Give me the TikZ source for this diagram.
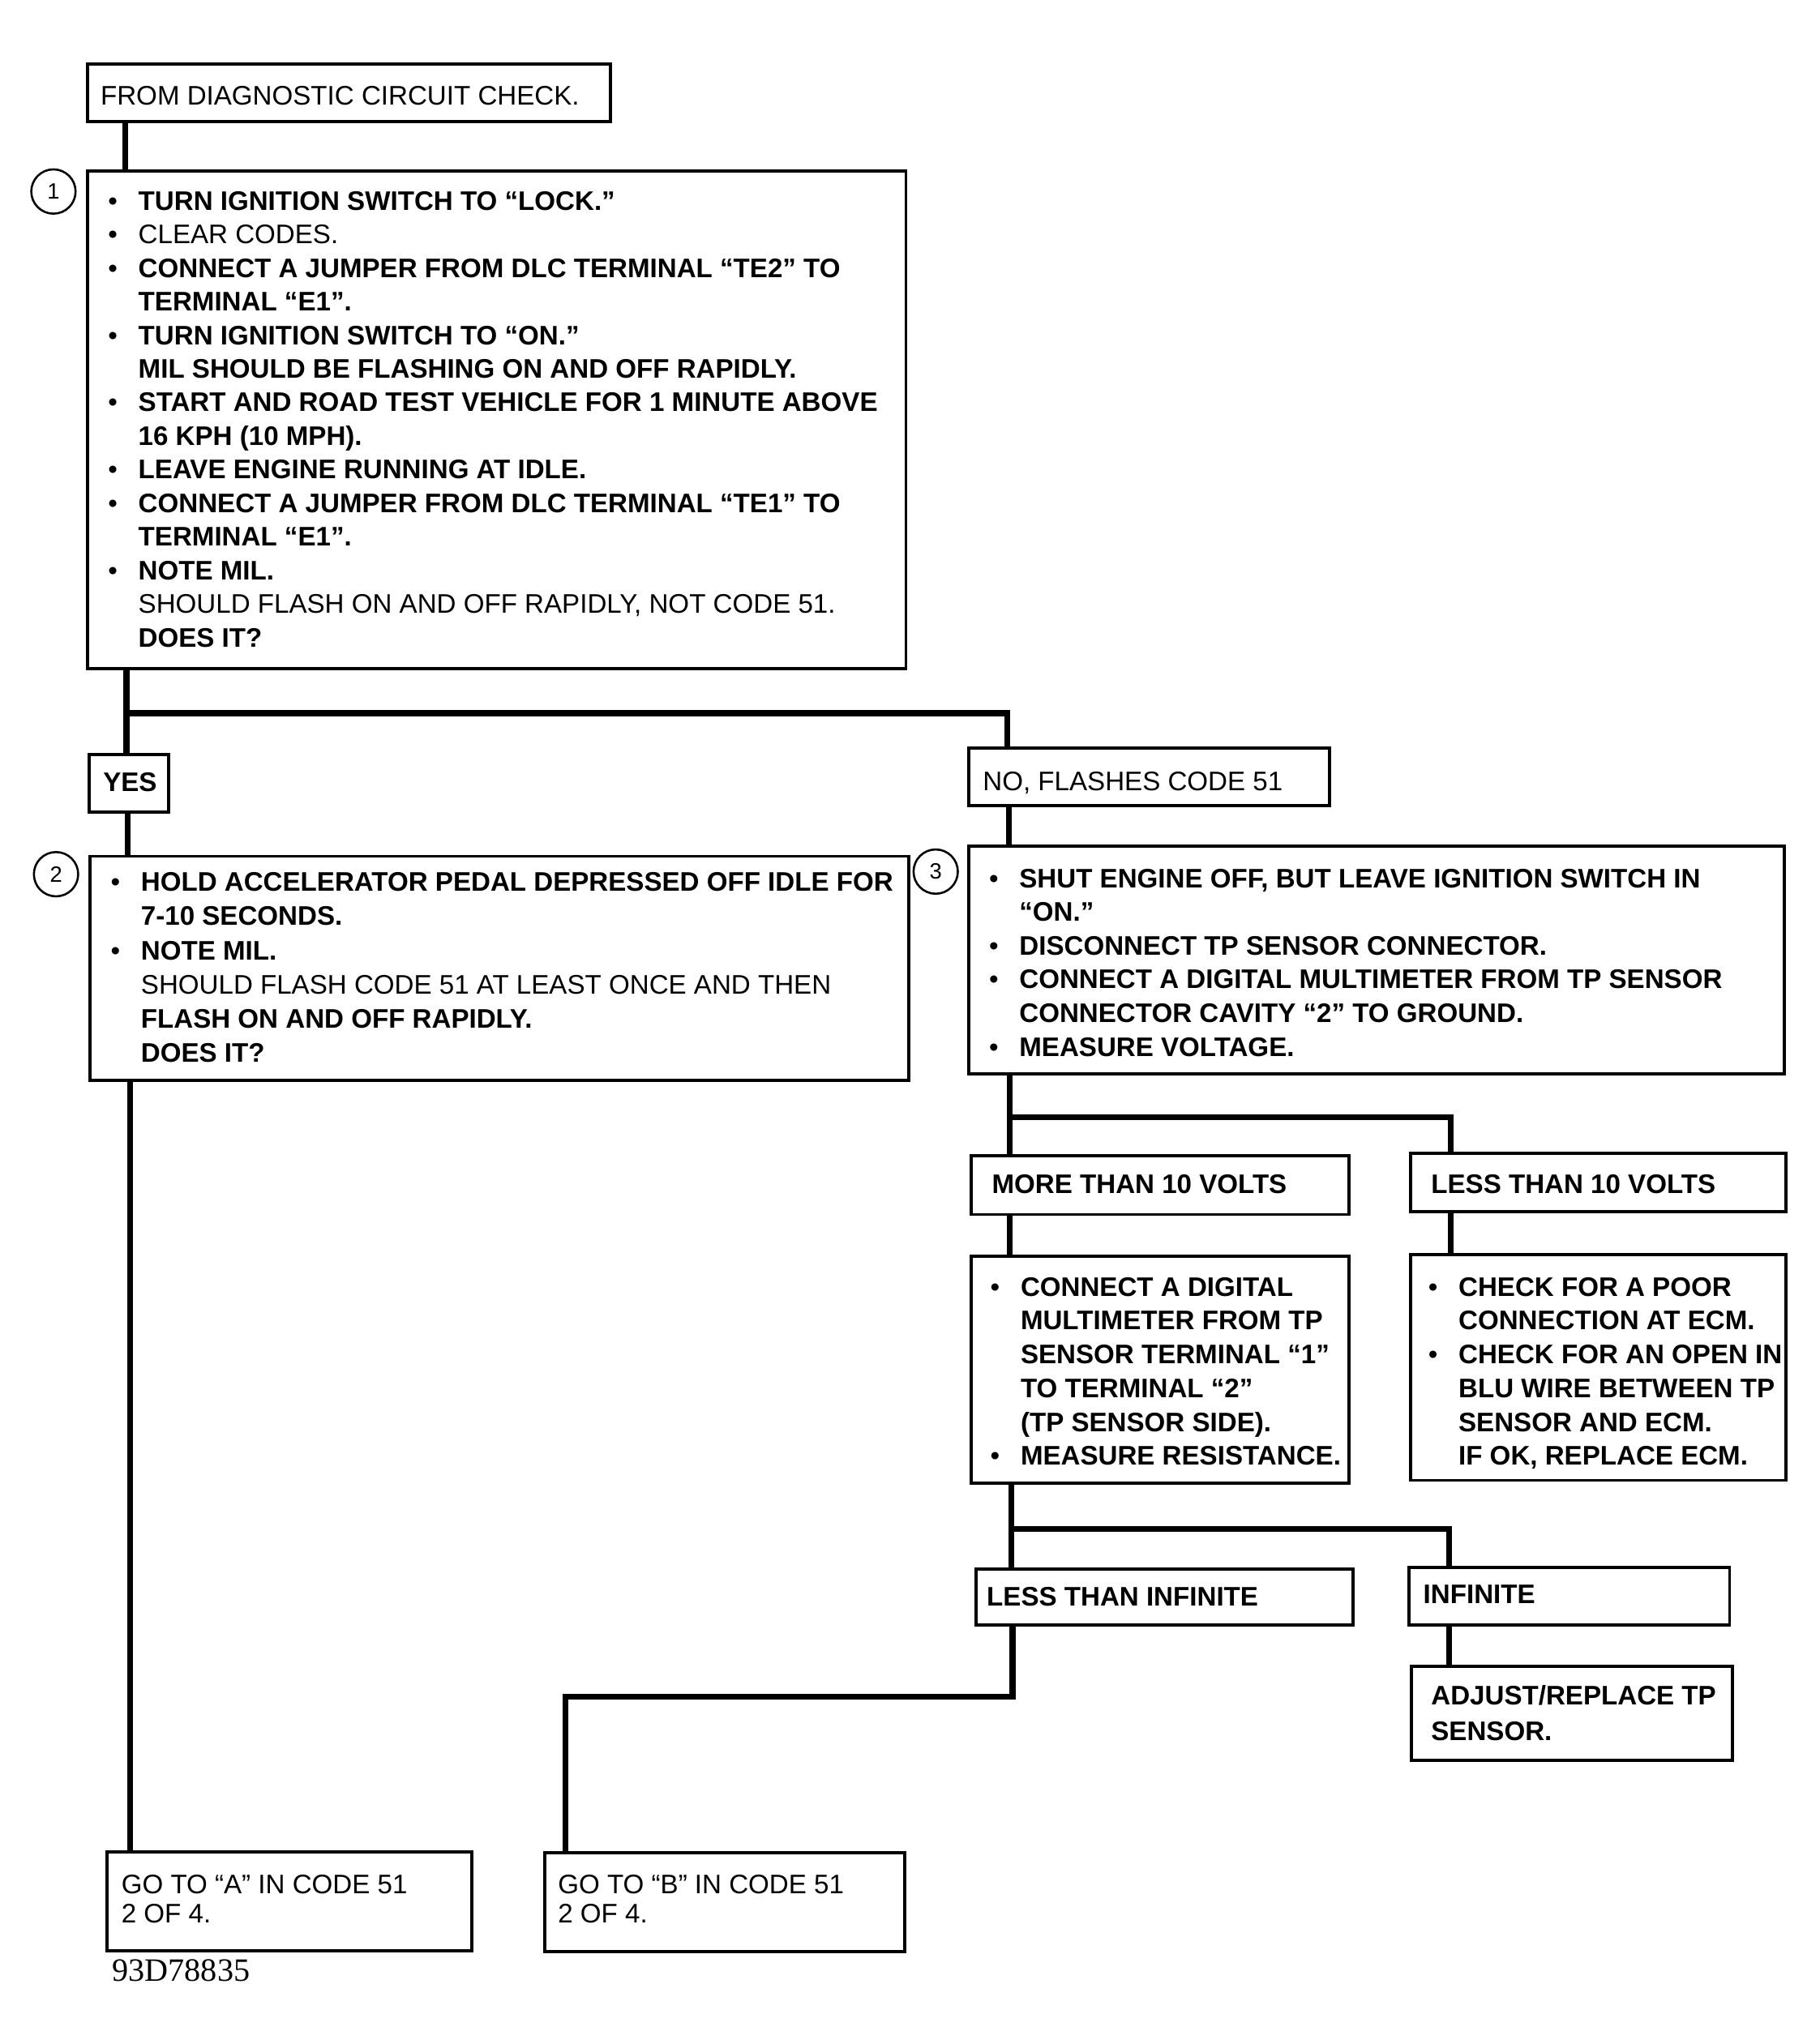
\documentclass[tikz,border=0pt]{standalone}
\usepackage{fontspec}
\setmainfont{Liberation Sans}
\newfontfamily\codefont{Liberation Serif}
\newcommand\fs{\rule{0pt}{16pt}}
\newcommand\bu{\llap{\textbullet\hspace{16pt}}}
\begin{document}
\begin{tikzpicture}[x=1pt,y=-1pt,
 frame/.style={draw, line width=2.4pt, inner sep=0pt, anchor=north west},
 conn/.style={line width=4.5pt},
 txt/.style={anchor=north west, inner sep=0pt, align=left, font=\fontsize{20.6}{25.8}\selectfont},
 lsk/.style={font=\fontsize{20.6}{#1}\selectfont},
 num/.style={circle, draw, line width=1.6pt, minimum size=34pt, inner sep=0pt, font=\fontsize{17}{17}\selectfont}]
\useasboundingbox (0,0) rectangle (1396,1568.9);

% frames
\node[frame, minimum width=401pt, minimum height=44pt] (from) at (66,48) {};
\node[frame, minimum width=628pt, minimum height=382pt] (b1) at (66,130) {};
\node[frame, minimum width=61pt, minimum height=44pt] (yes) at (67,578) {};
\node[frame, minimum width=628pt, minimum height=172pt] (b2) at (68,656) {};
\node[frame, minimum width=280pt, minimum height=76pt] (goa) at (81,1420) {};
\node[frame, minimum width=277pt, minimum height=44pt] (nob) at (742,573) {};
\node[frame, minimum width=626pt, minimum height=175pt] (b3) at (742,648) {};
\node[frame, minimum width=290pt, minimum height=45pt] (more) at (744,886) {};
\node[frame, minimum width=288pt, minimum height=45pt] (less) at (1081,884) {};
\node[frame, minimum width=290pt, minimum height=174pt] (b4) at (744,963) {};
\node[frame, minimum width=288pt, minimum height=173pt] (b5) at (1081,962) {};
\node[frame, minimum width=289pt, minimum height=43pt] (lti) at (748,1203) {};
\node[frame, minimum width=246pt, minimum height=44pt] (inf) at (1080,1202) {};
\node[frame, minimum width=246pt, minimum height=72pt] (adj) at (1082,1278) {};
\node[frame, minimum width=276pt, minimum height=76pt] (gob) at (417,1421) {};

% step numbers
\node[num] (c1) at (41,147) {1};
\node[num] (c2) at (43,671) {2};
\node[num] (c3) at (718,669) {3};

% connectors
\draw[conn] ([xshift=30pt]from.south west) -- ([xshift=30pt]b1.north west);
\draw[conn] ([xshift=31pt]b1.south west) -- ([xshift=30pt]yes.north west);
\draw[conn] ([xshift=31pt]b1.south west) -- ++(0,33) -| ([xshift=31pt]nob.north west);
\draw[conn] ([xshift=31pt]yes.south west) -- ([xshift=30pt]b2.north west);
\draw[conn] ([xshift=32pt]b2.south west) -- ([xshift=19pt]goa.north west);
\draw[conn] ([xshift=32pt]nob.south west) -- ([xshift=32pt]b3.north west);
\draw[conn] ([xshift=33pt]b3.south west) -- ([xshift=31pt]more.north west);
\draw[conn] ([xshift=33pt]b3.south west) -- ++(0,32) -| ([xshift=32pt]less.north west);
\draw[conn] ([xshift=31pt]more.south west) -- ([xshift=31pt]b4.north west);
\draw[conn] ([xshift=32pt]less.south west) -- ([xshift=32pt]b5.north west);
\draw[conn] ([xshift=32pt]b4.south west) -- ([xshift=28pt]lti.north west);
\draw[conn] ([xshift=32pt]b4.south west) -- ++(0,34) -| ([xshift=32pt]inf.north west);
\draw[conn] ([xshift=32pt]inf.south west) -- ([xshift=30pt]adj.north west);
\draw[conn] ([xshift=29pt]lti.south west) -- ++(0,54) -| ([xshift=17pt]gob.north west);

% texts
\node[txt] (tfrom) at (77,64.5) {\fs FROM DIAGNOSTIC CIRCUIT CHECK.};
\node[txt] (tb1) at (106,145) {\fs\bu\textbf{TURN IGNITION SWITCH TO “LOCK.”}\\
\bu CLEAR CODES.\\
\bu\textbf{CONNECT A JUMPER FROM DLC TERMINAL “TE2” TO}\\
\textbf{TERMINAL “E1”.}\\
\bu\textbf{TURN IGNITION SWITCH TO “ON.”}\\
\textbf{MIL SHOULD BE FLASHING ON AND OFF RAPIDLY.}\\
\bu\textbf{START AND ROAD TEST VEHICLE FOR 1 MINUTE ABOVE}\\
\textbf{16 KPH (10 MPH).}\\
\bu\textbf{LEAVE ENGINE RUNNING AT IDLE.}\\
\bu\textbf{CONNECT A JUMPER FROM DLC TERMINAL “TE1” TO}\\
\textbf{TERMINAL “E1”.}\\
\bu\textbf{NOTE MIL.}\\
SHOULD FLASH ON AND OFF RAPIDLY, NOT CODE 51.\\
\textbf{DOES IT?}};
\node[txt] (tyes) at (79,591.5) {\fs\textbf{YES}};
\node[txt, lsk=26.2] (tb2) at (108,668) {\fs\bu\textbf{HOLD ACCELERATOR PEDAL DEPRESSED OFF IDLE FOR}\\
\textbf{7-10 SECONDS.}\\
\bu\textbf{NOTE MIL.}\\
SHOULD FLASH CODE 51 AT LEAST ONCE AND THEN\\
\textbf{FLASH ON AND OFF RAPIDLY.}\\
\textbf{DOES IT?}};
\node[txt] (tno) at (754,590.5) {\fs NO, FLASHES CODE 51};
\node[txt, lsk=25.9] (tb3) at (782,665) {\fs\bu\textbf{SHUT ENGINE OFF, BUT LEAVE IGNITION SWITCH IN}\\
\textbf{“ON.”}\\
\bu\textbf{DISCONNECT TP SENSOR CONNECTOR.}\\
\bu\textbf{CONNECT A DIGITAL MULTIMETER FROM TP SENSOR}\\
\textbf{CONNECTOR CAVITY “2” TO GROUND.}\\
\bu\textbf{MEASURE VOLTAGE.}};
\node[txt] (tmore) at (761,899.5) {\fs\textbf{MORE THAN 10 VOLTS}};
\node[txt] (tless) at (1098,899.5) {\fs\textbf{LESS THAN 10 VOLTS}};
\node[txt, lsk=26] (tb4) at (783,978.5) {\fs\bu\textbf{CONNECT A DIGITAL}\\
\textbf{MULTIMETER FROM TP}\\
\textbf{SENSOR TERMINAL “1”}\\
\textbf{TO TERMINAL “2”}\\
\textbf{(TP SENSOR SIDE).}\\
\bu\textbf{MEASURE RESISTANCE.}};
\node[txt, lsk=26] (tb5) at (1119,978.5) {\fs\bu\textbf{CHECK FOR A POOR}\\
\textbf{CONNECTION AT ECM.}\\
\bu\textbf{CHECK FOR AN OPEN IN}\\
\textbf{BLU WIRE BETWEEN TP}\\
\textbf{SENSOR AND ECM.}\\
\textbf{IF OK, REPLACE ECM.}};
\node[txt] (tlti) at (757,1216.5) {\fs\textbf{LESS THAN INFINITE}};
\node[txt] (tinf) at (1092,1214.5) {\fs\textbf{INFINITE}};
\node[txt, lsk=27] (tadj) at (1098,1292.5) {\fs\textbf{ADJUST/REPLACE TP}\\
\textbf{SENSOR.}};
\node[txt, lsk=22] (tgoa) at (93,1437.5) {\fs GO TO “A” IN CODE 51\\
2 OF 4.};
\node[txt, lsk=22] (tgob) at (428,1437.5) {\fs GO TO “B” IN CODE 51\\
2 OF 4.};
\node[anchor=base west, inner sep=0pt, font=\codefont\fontsize{25}{25}\selectfont] (code) at (86,1520.5) {93D78835};
\end{tikzpicture}
\end{document}
